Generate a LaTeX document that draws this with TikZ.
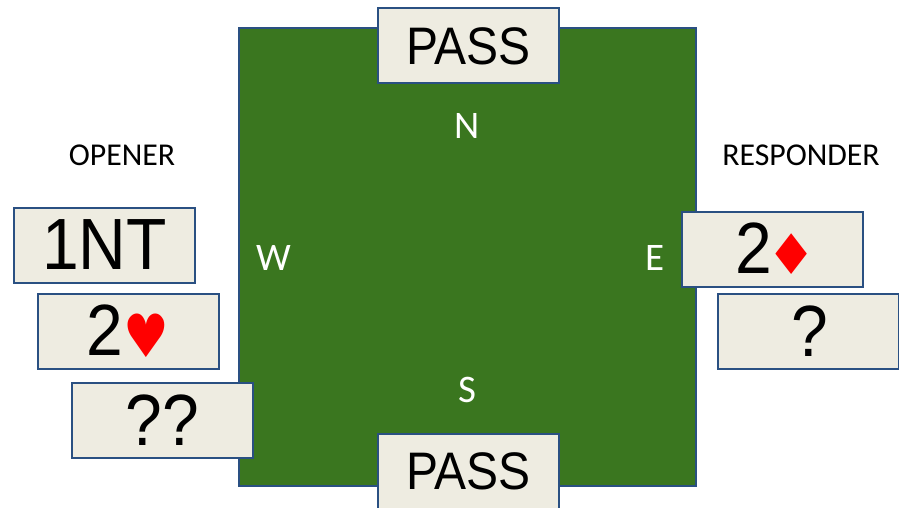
\documentclass[tikz,border=0pt]{standalone}
\usepackage{graphicx}
\usepackage{fontspec}
\setmainfont{Liberation Sans}
\newfontfamily\cardfont{DejaVu Sans}
\newfontfamily\labelfont{Carlito}
\definecolor{felt}{HTML}{3A761F}
\definecolor{cardbg}{HTML}{EEECE1}
\definecolor{cardline}{HTML}{2A5082}
\newcommand{\tall}[1]{\scalebox{1}[1.1]{#1}}
\newcommand{\heartglyph}{\raisebox{-1.5pt}{\scalebox{0.88}[1.03]{\fontsize{58}{58}\selectfont\cardfont\textcolor{red}{♥}}}}
\newcommand{\diamondglyph}{\raisebox{-1pt}{\fontsize{56}{56}\selectfont\cardfont\textcolor{red}{♦}}}
\tikzset{
 card/.style={draw=cardline,fill=cardbg,line width=2pt,minimum width=181pt,minimum height=75pt,inner sep=0pt,font=\fontsize{66}{66}\selectfont,text=black,anchor=center},
 passcard/.style={card,font=\fontsize{48}{48}\selectfont},
 seat/.style={text=white,font=\labelfont\fontsize{39}{39}\selectfont,inner sep=0pt},
 role/.style={text=black,font=\labelfont\fontsize{31.8}{32}\selectfont,inner sep=0pt}
}
\begin{document}
\begin{tikzpicture}[x=1pt,y=-1pt]
\useasboundingbox (0,0) rectangle (899,508);
\node[draw=cardline,fill=felt,line width=2pt,minimum width=457pt,minimum height=458pt,inner sep=0pt] (table) at (467,257) {};
\node[passcard] (pn) at (468.5,46) {\tall{PASS}};
\node[passcard] (ps) at (468.5,471) {\tall{PASS}};
\node[card] (w1) at (104.5,245) {\tall{1NT}};
\node[card] (w2) at (128,331) {\tall{2}\heartglyph};
\node[card] (w3) at (162.5,420) {\tall{??}};
\node[card] (e1) at (772.5,249) {\hspace*{7pt}\tall{2}\hspace{-5pt}\diamondglyph};
\node[card] (e2) at (808,331) {\hspace*{4pt}\tall{?}};
\node[seat] (n) at (467,126) {N};
\node[seat] (s) at (467,390) {S};
\node[seat] (w) at (274,258) {W};
\node[seat] (e) at (655,258) {E};
\node[role] (op) at (122,155) {OPENER};
\node[role] (re) at (801,155) {RESPONDER};
\end{tikzpicture}
\end{document}
